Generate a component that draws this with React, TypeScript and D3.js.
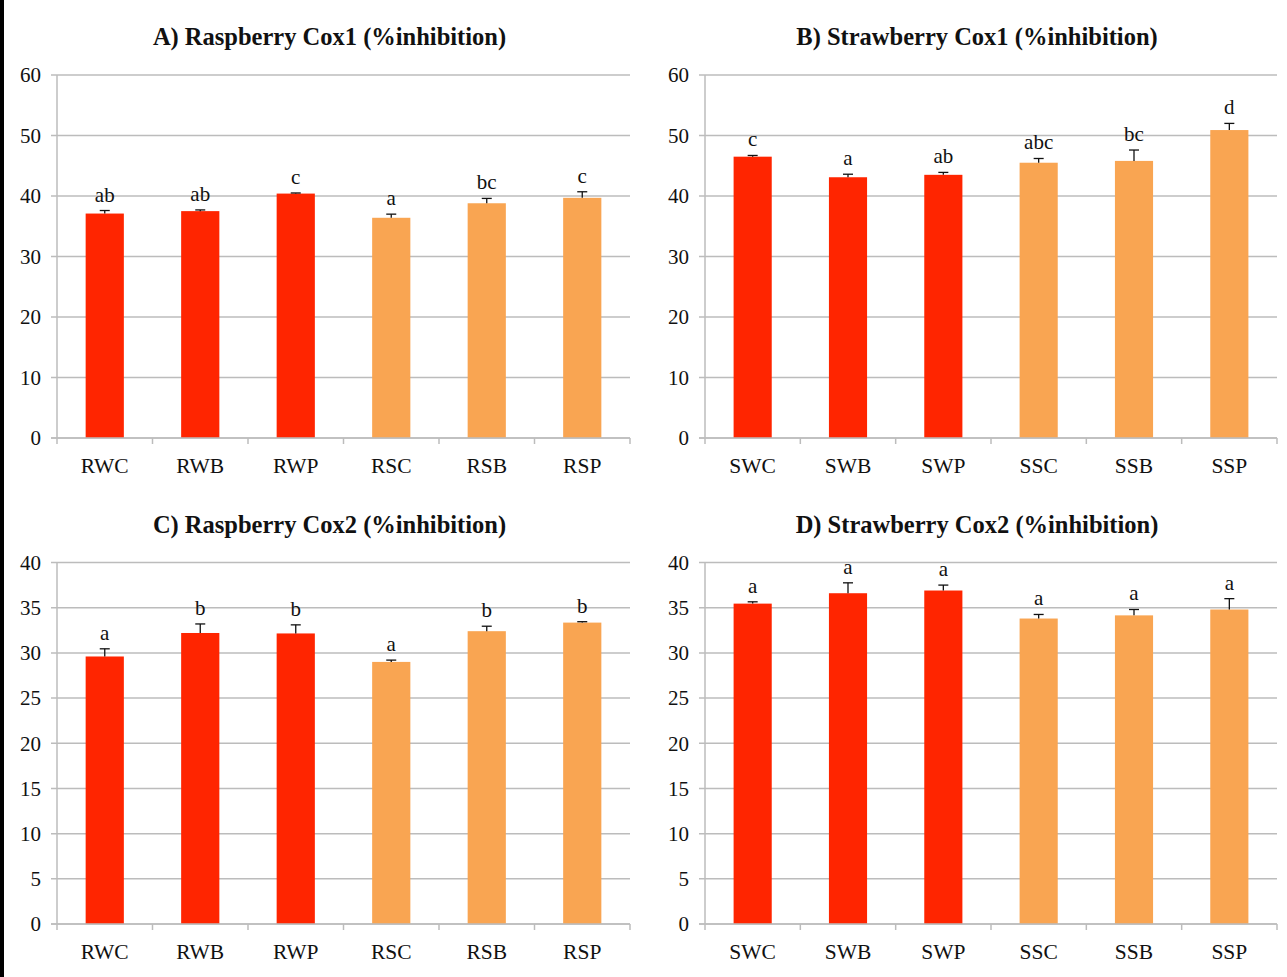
import React, { useEffect, useRef } from "react";
import * as d3 from "d3";

// Raspberry and strawberry extracts: COX inhibition (%), mean with upper error and letter groups
const raspCats = ["RWC", "RWB", "RWP", "RSC", "RSB", "RSP"];
const strawCats = ["SWC", "SWB", "SWP", "SSC", "SSB", "SSP"];

const raspCox1 = [37.1, 37.5, 40.4, 36.4, 38.8, 39.7];
const raspCox1Err = [0.5, 0.2, 0.1, 0.6, 0.8, 1.0];
const raspCox1Letters = ["ab", "ab", "c", "a", "bc", "c"];

const strawCox1 = [46.5, 43.1, 43.5, 45.5, 45.8, 50.9];
const strawCox1Err = [0.2, 0.5, 0.4, 0.7, 1.8, 1.1];
const strawCox1Letters = ["c", "a", "ab", "abc", "bc", "d"];

const raspCox2 = [29.6, 32.2, 32.15, 29.0, 32.4, 33.35];
const raspCox2Err = [0.85, 1.0, 0.95, 0.2, 0.55, 0.1];
const raspCox2Letters = ["a", "b", "b", "a", "b", "b"];

const strawCox2 = [35.45, 36.6, 36.9, 33.8, 34.15, 34.8];
const strawCox2Err = [0.2, 1.15, 0.6, 0.45, 0.65, 1.2];
const strawCox2Letters = ["a", "a", "a", "a", "a", "a"];

const cox1Ticks = [0, 10, 20, 30, 40, 50, 60];
const cox2Ticks = [0, 5, 10, 15, 20, 25, 30, 35, 40];

const RED = "#ff2500";
const ORANGE = "#f9a552";
const GRID = "#bcbcbc";
const FONT = "'Liberation Serif', 'Times New Roman', serif";

type Panel = {
  title: string;
  cats: string[];
  values: number[];
  errs: number[];
  letters: string[];
  ticks: number[];
  yMax: number;
  x0: number;
  x1: number;
  yTop: number;
  yBottom: number;
};

const panels: Panel[] = [
  { title: "A) Raspberry Cox1 (%inhibition)", cats: raspCats, values: raspCox1, errs: raspCox1Err, letters: raspCox1Letters, ticks: cox1Ticks, yMax: 60, x0: 57, x1: 630, yTop: 75, yBottom: 438 },
  { title: "B) Strawberry Cox1 (%inhibition)", cats: strawCats, values: strawCox1, errs: strawCox1Err, letters: strawCox1Letters, ticks: cox1Ticks, yMax: 60, x0: 705, x1: 1277, yTop: 75, yBottom: 438 },
  { title: "C) Raspberry Cox2 (%inhibition)", cats: raspCats, values: raspCox2, errs: raspCox2Err, letters: raspCox2Letters, ticks: cox2Ticks, yMax: 40, x0: 57, x1: 630, yTop: 562.5, yBottom: 924 },
  { title: "D) Strawberry Cox2 (%inhibition)", cats: strawCats, values: strawCox2, errs: strawCox2Err, letters: strawCox2Letters, ticks: cox2Ticks, yMax: 40, x0: 705, x1: 1277, yTop: 562.5, yBottom: 924 },
];

export default function App() {
  const ref = useRef<SVGSVGElement | null>(null);

  useEffect(() => {
    const svg = d3.select(ref.current);
    svg.selectAll("*").remove();

    svg.append("rect").attr("width", 1287).attr("height", 977).attr("fill", "#fff");
    svg.append("rect").attr("x", 0).attr("y", 0).attr("width", 4).attr("height", 977).attr("fill", "#000");

    panels.forEach((p) => {
      const g = svg.append("g");
      const x = d3.scaleBand<string>().domain(p.cats).range([p.x0, p.x1]).paddingInner(0.6).paddingOuter(0.3);
      const y = d3.scaleLinear().domain([0, p.yMax]).range([p.yBottom, p.yTop]);
      const step = (p.x1 - p.x0) / p.cats.length;

      // title
      g.append("text")
        .attr("x", (p.x0 + p.x1) / 2 - 14)
        .attr("y", p.yTop - 30)
        .attr("text-anchor", "middle")
        .attr("font-family", FONT)
        .attr("font-weight", "bold")
        .attr("font-size", 24.5)
        .attr("fill", "#111")
        .text(p.title);

      // horizontal gridlines with left tick marks
      p.ticks.forEach((t) => {
        g.append("line")
          .attr("x1", p.x0 - 6)
          .attr("x2", p.x1)
          .attr("y1", y(t))
          .attr("y2", y(t))
          .attr("stroke", GRID)
          .attr("stroke-width", 1.5);
        g.append("text")
          .attr("x", p.x0 - 16)
          .attr("y", y(t))
          .attr("dy", "0.35em")
          .attr("text-anchor", "end")
          .attr("font-family", FONT)
          .attr("font-size", 21)
          .attr("fill", "#111")
          .text(String(t));
      });

      // vertical axis
      g.append("line")
        .attr("x1", p.x0)
        .attr("x2", p.x0)
        .attr("y1", p.yTop)
        .attr("y2", p.yBottom)
        .attr("stroke", GRID)
        .attr("stroke-width", 1.5);

      // category boundary ticks on x-axis
      d3.range(p.cats.length + 1).forEach((i) => {
        const xx = p.x0 + i * step;
        g.append("line")
          .attr("x1", xx)
          .attr("x2", xx)
          .attr("y1", p.yBottom)
          .attr("y2", p.yBottom + 6)
          .attr("stroke", GRID)
          .attr("stroke-width", 1.5);
      });

      p.cats.forEach((c, i) => {
        const bx = x(c)!;
        const bw = x.bandwidth();
        const cx = bx + bw / 2;
        const v = p.values[i];
        const top = v + p.errs[i];

        g.append("rect")
          .attr("x", bx)
          .attr("y", y(v))
          .attr("width", bw)
          .attr("height", y(0) - y(v))
          .attr("fill", i < 3 ? RED : ORANGE);

        // upper error bar
        g.append("line")
          .attr("x1", cx)
          .attr("x2", cx)
          .attr("y1", y(v))
          .attr("y2", y(top))
          .attr("stroke", "#111")
          .attr("stroke-width", 1.3);
        g.append("line")
          .attr("x1", cx - 5)
          .attr("x2", cx + 5)
          .attr("y1", y(top))
          .attr("y2", y(top))
          .attr("stroke", "#111")
          .attr("stroke-width", 1.3);

        // significance letters
        g.append("text")
          .attr("x", cx)
          .attr("y", y(top) - 9)
          .attr("text-anchor", "middle")
          .attr("font-family", FONT)
          .attr("font-size", 21)
          .attr("fill", "#111")
          .text(p.letters[i]);

        // category label
        g.append("text")
          .attr("x", cx)
          .attr("y", p.yBottom + 35)
          .attr("text-anchor", "middle")
          .attr("font-family", FONT)
          .attr("font-size", 21.5)
          .attr("fill", "#111")
          .text(c);
      });

      // bottom axis line drawn last so it sits over bar bases
      g.append("line")
        .attr("x1", p.x0 - 6)
        .attr("x2", p.x1)
        .attr("y1", p.yBottom)
        .attr("y2", p.yBottom)
        .attr("stroke", GRID)
        .attr("stroke-width", 1.5);
    });
  }, []);

  return (
    <div style={{ position: "absolute", left: 0, top: 0 }}>
      <svg ref={ref} width={1287} height={977} style={{ display: "block" }} />
    </div>
  );
}
